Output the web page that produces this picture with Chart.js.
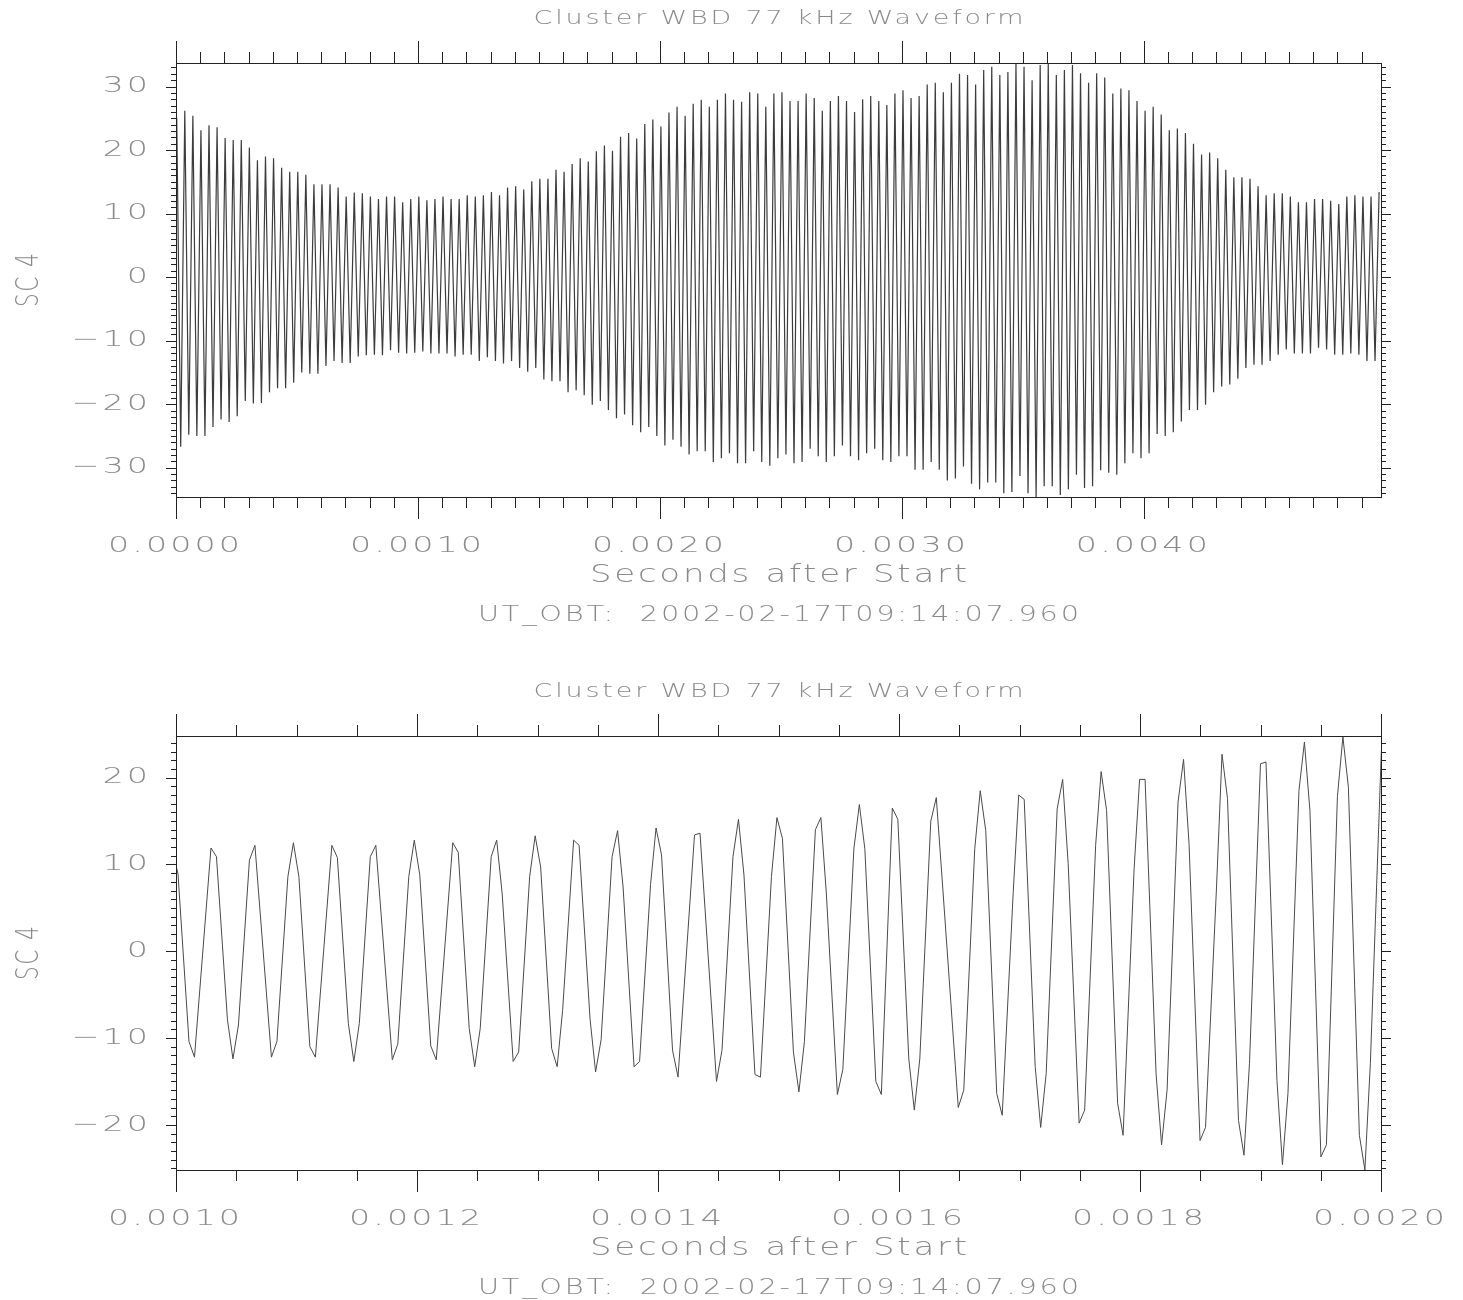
<!DOCTYPE html>
<html>
<head>
<meta charset="utf-8">
<script src="https://cdn.jsdelivr.net/npm/chart.js@4.4.0/dist/chart.umd.min.js"></script>
<style>
  html, body { margin: 0; padding: 0; background: #fff; }
  canvas { position: absolute; left: 0; }
</style>
</head>
<body>
<canvas id="overview" style="top:0" width="1463" height="650"></canvas>
<canvas id="detail" style="top:650px" width="1463" height="650"></canvas>
<script>
// Upper panel: one peak and one trough per wave cycle
const overviewPeaks = [
  25.1, 26.2, 25.4, 23.1, 23.9, 23.6, 21.9, 21.6, 21.6, 20.4, 18.4, 19.0, 18.7, 17.2, 16.6, 16.6, 16.1, 14.6, 14.6, 14.6,
  14.1, 12.7, 13.3, 13.2, 12.7, 12.3, 12.7, 12.7, 11.8, 12.3, 12.7, 12.1, 12.3, 12.7, 12.3, 12.3, 12.9, 12.7,
  12.9, 13.4, 12.9, 14.1, 14.3, 13.8, 15.1, 15.5, 15.5, 16.9, 16.6, 17.8, 18.7, 18.2, 19.8, 20.7, 19.9, 22.1, 22.7, 21.8,
  24.1, 24.8, 23.7, 25.9, 26.8, 25.4, 27.3, 27.9, 26.8, 27.9, 28.9, 27.9, 27.6, 29.1, 28.9, 26.8, 28.9,
  29.1, 27.7, 27.7, 28.9, 28.2, 26.2, 27.7, 28.5, 27.7, 26.0, 28.0, 28.5, 27.7, 27.1, 28.9, 29.4, 28.2, 28.5, 30.3, 30.6,
  29.1, 30.6, 32.0, 31.8, 30.3, 32.6, 33.1, 31.8, 32.3, 33.7, 33.1, 31.0, 33.4, 33.6, 31.8, 32.6, 33.4,
  32.1, 30.6, 32.1, 31.4, 28.9, 29.7, 29.4, 27.7, 26.2, 26.8, 25.6, 23.1, 23.4, 22.7, 21.0, 19.3, 19.6, 18.7, 16.9, 15.7,
  15.7, 15.5, 14.3, 12.9, 13.2, 13.2, 12.7, 11.8, 11.8, 12.3, 12.3, 12.0, 11.5, 12.7, 12.9, 12.7, 12.7, 13.4
];
const overviewTroughs = [
  -26.7, -24.8, -25.0, -25.0, -23.6, -22.4, -22.8, -21.9, -19.5, -19.9, -19.8, -18.1, -17.5, -17.5, -16.6, -15.0, -15.2, -15.2, -14.0, -13.2,
  -13.5, -13.5, -12.5, -12.3, -12.2, -12.3, -11.5, -11.9, -12.0, -11.9, -11.7, -12.0, -12.0, -12.0, -12.5, -12.2, -12.2, -13.2,
  -12.6, -13.2, -13.6, -13.2, -14.3, -14.9, -14.3, -16.1, -16.4, -16.4, -18.1, -17.8, -18.6, -20.1, -19.5, -20.9, -22.2, -21.6, -23.3, -24.4,
  -23.6, -25.0, -26.5, -25.6, -26.7, -27.9, -27.4, -27.4, -29.1, -28.5, -27.7, -29.3, -29.3, -27.4, -29.1, -29.7, -28.5,
  -27.9, -29.3, -29.1, -27.0, -28.2, -29.1, -28.2, -26.5, -28.2, -28.8, -27.7, -27.0, -28.8, -29.1, -28.2, -28.2, -30.3, -30.3, -29.1, -30.3,
  -32.0, -31.7, -29.8, -32.5, -33.4, -32.3, -32.3, -34.0, -33.8, -31.3, -34.0, -34.6, -32.9, -32.9, -34.3, -33.4, -31.1,
  -33.2, -32.9, -30.4, -30.8, -31.1, -29.3, -27.7, -28.5, -27.7, -24.7, -25.0, -24.4, -22.7, -20.9, -20.9, -20.1, -18.1, -17.2, -16.9, -16.0,
  -14.3, -13.8, -13.8, -13.2, -12.2, -11.4, -12.0, -12.0, -12.0, -11.1, -11.4, -12.2, -12.2, -12.0, -12.2, -13.2, -13.2
];
const CYCLE = 33.35e-6;        // seconds between successive peaks
const FIRST_PEAK = 0.000003;
const FIRST_TROUGH = 0.0000195;

// Lower panel: visible vertices of the trace, as sample number and value
const detailIdx = [
  -1, 0, 2, 3, 6, 7, 9, 10, 11, 13, 14, 17, 18, 20, 21, 22, 24, 25, 28, 29,
  31, 32, 33, 35, 36, 39, 40, 42, 43, 44, 46, 47, 50, 51, 53, 54, 55, 57, 58, 59,
  61, 62, 64, 65, 66, 68, 69, 70, 72, 73, 75, 76, 77, 79, 80, 81, 83, 84, 86, 87,
  88, 90, 91, 94, 95, 98, 99, 101, 102, 103, 105, 106, 108, 109, 110, 112, 113, 114, 116, 117,
  118, 120, 121, 123, 124, 125, 127, 128, 130, 131, 133, 134, 135, 137, 138, 139, 142, 143, 145, 146,
  147, 149, 150, 152, 153, 154, 156, 157, 158, 160, 161, 162, 164, 165, 167, 168, 169, 171, 172, 174,
  175, 176, 178, 179, 180, 182, 183, 184, 186, 187, 189, 190, 191, 193, 194, 195, 197, 198, 200, 201,
  202, 204, 205, 206, 208, 209, 211, 212, 213, 215, 216, 217, 219
];
const detailVal = [
  11.6, 8.9, -10.4, -12.2, 11.9, 10.9, -7.9, -12.4, -8.5, 10.5, 12.2, -12.2, -10.4, 8.6, 12.5, 8.6, -11.0, -12.2, 12.2, 10.8,
  -8.3, -12.7, -8.3, 10.9, 12.2, -12.5, -10.7, 8.6, 12.8, 8.8, -10.9, -12.5, 12.5, 11.4, -8.9, -13.3, -8.9, 10.9, 12.8, 6.6,
  -12.7, -11.6, 8.6, 13.3, 9.7, -11.2, -13.3, -6.8, 12.8, 12.2, -7.9, -13.9, -10.2, 10.9, 13.9, 7.4, -13.3, -12.7, 7.7, 14.2,
  11.1, -11.4, -14.5, 13.4, 13.6, -15.0, -11.4, 10.9, 15.2, 8.8, -14.2, -14.5, 8.6, 15.4, 13.0, -11.6, -16.2, -10.4, 14.0, 15.4,
  6.6, -16.5, -13.6, 11.8, 16.9, 11.8, -15.0, -16.5, 16.5, 15.2, -12.4, -18.3, -12.4, 15.0, 17.7, 8.9, -18.0, -16.0, 11.8, 18.5,
  13.9, -16.4, -18.9, 6.8, 18.0, 17.5, -13.3, -20.3, -14.1, 16.4, 19.8, 10.1, -19.8, -18.3, 12.2, 20.7, 16.2, -17.5, -21.2, 9.5,
  19.8, 19.8, -14.1, -22.3, -16.0, 17.2, 22.1, 12.4, -21.8, -20.3, 7.4, 22.7, 17.6, -19.5, -23.5, -12.9, 21.6, 21.8, -14.9, -24.6,
  -16.4, 18.5, 24.1, 16.2, -23.7, -22.3, 17.8, 24.7, 18.9, -21.2, -25.2, -12.9, 23.1
];
const DETAIL_T0 = 0.00100166;  // time of sample 0
const DETAIL_DT = 4.56e-6;     // sample spacing

const overviewXTicks = [0, 0.001, 0.002, 0.003, 0.004];
const overviewXLabels = ['0.0000', '0.0010', '0.0020', '0.0030', '0.0040'];
const overviewYTicks = [-30, -20, -10, 0, 10, 20, 30];
const detailXTicks = [0.001, 0.0012, 0.0014, 0.0016, 0.0018, 0.002];
const detailXLabels = ['0.0010', '0.0012', '0.0014', '0.0016', '0.0018', '0.0020'];
const detailYTicks = [-20, -10, 0, 10, 20];

const TITLE = 'Cluster WBD 77 kHz Waveform';
const X_TITLE = 'Seconds after Start';
const Y_TITLE = 'SC 4';
const STAMP = 'UT_OBT:  2002-02-17T09:14:07.960';

const TEXT_COLOR = '#8a8a8a';
const AXIS_COLOR = '#222';
const FONT = '"DejaVu Sans"';

function textWidth(ctx, text, size, spacing) {
  ctx.font = `200 ${size}px ${FONT}`;
  ctx.letterSpacing = spacing + 'px';
  return ctx.measureText(text).width - spacing;
}

function drawText(ctx, text, x, y, o) {
  ctx.save();
  const w = textWidth(ctx, text, o.size, o.spacing);
  const sx = o.width ? o.width / w : (o.sx || 1);
  ctx.fillStyle = TEXT_COLOR;
  ctx.textBaseline = 'middle';
  ctx.textAlign = 'left';
  ctx.translate(x, y);
  if (o.rotate) ctx.rotate(o.rotate);
  ctx.scale(sx, 1);
  let left = -w / 2;
  if (o.align === 'right') left = -w;
  ctx.fillText(text, left, 0);
  ctx.restore();
}

function line(ctx, x1, y1, x2, y2) {
  ctx.beginPath();
  ctx.moveTo(x1, y1);
  ctx.lineTo(x2, y2);
  ctx.stroke();
}

const idlFrame = {
  id: 'idlFrame',
  afterDraw(chart) {
    const ax = chart.options.plugins.idlFrame;
    const ctx = chart.ctx;
    const a = chart.chartArea;
    const xs = chart.scales.x, ys = chart.scales.y;
    ctx.save();
    ctx.strokeStyle = AXIS_COLOR;
    ctx.lineWidth = 1;
    ctx.strokeRect(Math.round(a.left) + 0.5, Math.round(a.top) + 0.5,
      Math.round(a.right - a.left), Math.round(a.bottom - a.top));

    // x ticks, outward on bottom and top
    const nx = Math.round((xs.max - xs.min) / ax.xMinor);
    for (let i = 0; i <= nx; i++) {
      const v = xs.min + i * ax.xMinor;
      if (v > xs.max + 1e-12) break;
      const major = ax.xTicks.some(t => Math.abs(t - v) < ax.xMinor / 10);
      const len = major ? 22 : 11;
      const px = Math.round(xs.getPixelForValue(v)) + 0.5;
      line(ctx, px, a.bottom, px, a.bottom + len);
      line(ctx, px, a.top, px, a.top - len);
    }
    // y ticks, outward on left and right
    for (let v = Math.ceil(ys.min); v <= ys.max; v++) {
      const major = v % 10 === 0;
      const len = major ? 10 : 5;
      const py = Math.round(ys.getPixelForValue(v)) + 0.5;
      line(ctx, a.left, py, a.left - len, py);
      line(ctx, a.right, py, a.right + len, py);
    }
    ctx.restore();

    const cx = (a.left + a.right) / 2;
    const tick = { size: 22, spacing: 2 };
    tick.sx = 132 / textWidth(ctx, '0.0000', tick.size, tick.spacing);
    ax.xTicks.forEach((v, i) => {
      drawText(ctx, ax.xLabels[i], xs.getPixelForValue(v) - 2, a.bottom + 49, tick);
    });
    ax.yTicks.forEach(v => {
      const label = v < 0 ? '\u2212' + Math.abs(v) : String(v);
      drawText(ctx, label, 148, ys.getPixelForValue(v), Object.assign({ align: 'right' }, tick));
    });
    drawText(ctx, TITLE, cx, a.top - 44, { size: 19, spacing: 2, width: 490 });
    drawText(ctx, X_TITLE, cx, a.bottom + 78, { size: 25, spacing: 2, width: 377 });
    drawText(ctx, STAMP, cx, a.bottom + 119, { size: 21, spacing: 2, width: 601 });
    drawText(ctx, Y_TITLE, 30, (a.top + a.bottom) / 2, { size: 32, spacing: 2, width: 54, rotate: -Math.PI / 2 });
  }
};

function makeChart(id, points, opts) {
  return new Chart(document.getElementById(id), {
    type: 'line',
    data: {
      datasets: [{
        data: points,
        borderColor: opts.color,
        borderWidth: opts.lineWidth,
        pointRadius: 0,
        tension: 0,
        fill: false
      }]
    },
    options: {
      responsive: false,
      animation: false,
      events: [],
      layout: { padding: opts.padding },
      plugins: {
        legend: { display: false },
        tooltip: { enabled: false },
        idlFrame: opts.frame
      },
      scales: {
        x: { type: 'linear', display: false, min: opts.xRange[0], max: opts.xRange[1] },
        y: { type: 'linear', display: false, min: opts.yRange[0], max: opts.yRange[1] }
      }
    },
    plugins: [idlFrame]
  });
}

// build the upper trace: peak, trough, peak, ...
const overviewPoints = [];
overviewPeaks.forEach((p, i) => {
  overviewPoints.push({ x: FIRST_PEAK + i * CYCLE, y: p });
  if (i < overviewTroughs.length) {
    overviewPoints.push({ x: FIRST_TROUGH + i * CYCLE, y: overviewTroughs[i] });
  }
});

const detailPoints = detailIdx.map((k, i) => ({ x: DETAIL_T0 + k * DETAIL_DT, y: detailVal[i] }));

makeChart('overview', overviewPoints, {
  color: '#3c3c3c',
  lineWidth: 1.2,
  padding: { left: 176, right: 82, top: 63, bottom: 153 },
  xRange: [0, 0.00498],
  yRange: [-34.6, 33.7],
  frame: { xTicks: overviewXTicks, xLabels: overviewXLabels, xMinor: 0.0001, yTicks: overviewYTicks }
});

makeChart('detail', detailPoints, {
  color: '#4a4a4a',
  lineWidth: 1,
  padding: { left: 176, right: 82, top: 86, bottom: 130 },
  xRange: [0.001, 0.002],
  yRange: [-25.2, 24.8],
  frame: { xTicks: detailXTicks, xLabels: detailXLabels, xMinor: 0.00005, yTicks: detailYTicks }
});
</script>
</body>
</html>
